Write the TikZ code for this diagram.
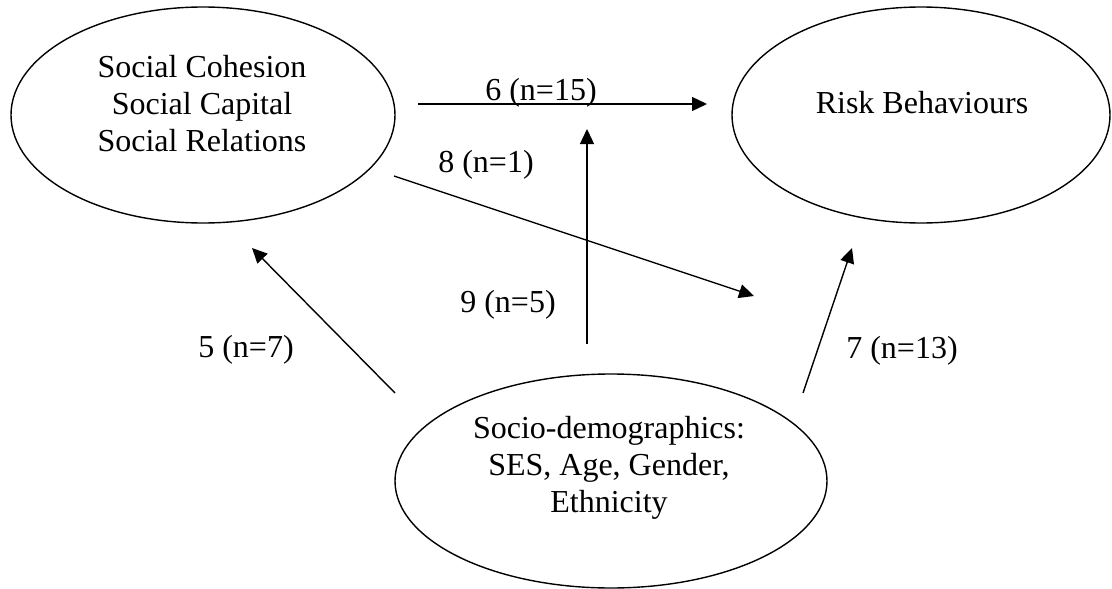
\documentclass[tikz,border=0pt]{standalone}
\usepackage{fontspec}
\setmainfont{Liberation Serif}
\usetikzlibrary{shapes.geometric,arrows.meta}
\begin{document}
\begin{tikzpicture}[x=1pt,y=-1pt,
  oval/.style={draw,ellipse,line width=1.4pt,inner sep=0pt},
  txt/.style={font=\fontsize{32}{37}\selectfont,align=center,inner sep=0pt,anchor=base},
  lbl/.style={font=\fontsize{32}{37}\selectfont,inner sep=0pt,anchor=base},
  conn/.style={line width=1.4pt,-{Triangle[length=15pt,width=14pt]}}]
\fill[white] (0,0) rectangle (1112,589);
\useasboundingbox (0,0) rectangle (1112,589);
% ellipses
\node[oval,minimum width=384pt,minimum height=216pt] (soc) at (203,115) {};
\node[oval,minimum width=378pt,minimum height=216pt] (risk) at (921,115) {};
\node[oval,minimum width=432pt,minimum height=214pt] (demo) at (611,481) {};
% texts (base anchor = baseline of the last line)
\node[txt] (soct) at (202,151) {Social Cohesion\\Social Capital\\Social Relations};
\node[txt] (riskt) at (922,113) {Risk Behaviours};
\node[txt] (demot) at (609,512) {Socio-demographics:\\SES, Age, Gender,\\Ethnicity};
% connector end points
\coordinate (a6s) at (418,104);
\coordinate (a6e) at (707,104);
\coordinate (a9s) at (587,344);
\coordinate (a9e) at (587,129);
\coordinate (a8s) at (394,176);
\coordinate (a8e) at (754,296);
\coordinate (a5s) at (395,393);
\coordinate (a5e) at (252,248);
\coordinate (a7s) at (803,393);
\coordinate (a7e) at (852,248);
% connectors
\draw[conn] (a6s) -- (a6e);
\draw[conn] (a9s) -- (a9e);
\draw[conn] (a8s) -- (a8e);
\draw[conn] (a5s) -- (a5e);
\draw[conn] (a7s) -- (a7e);
% labels
\node[lbl] (l6) at (541,100) {6 (n=15)};
\node[lbl] (l8) at (486,172) {8 (n=1)};
\node[lbl] (l9) at (508,312) {9 (n=5)};
\node[lbl] (l5) at (246,357) {5 (n=7)};
\node[lbl] (l7) at (902,358) {7 (n=13)};
\end{tikzpicture}
\end{document}
